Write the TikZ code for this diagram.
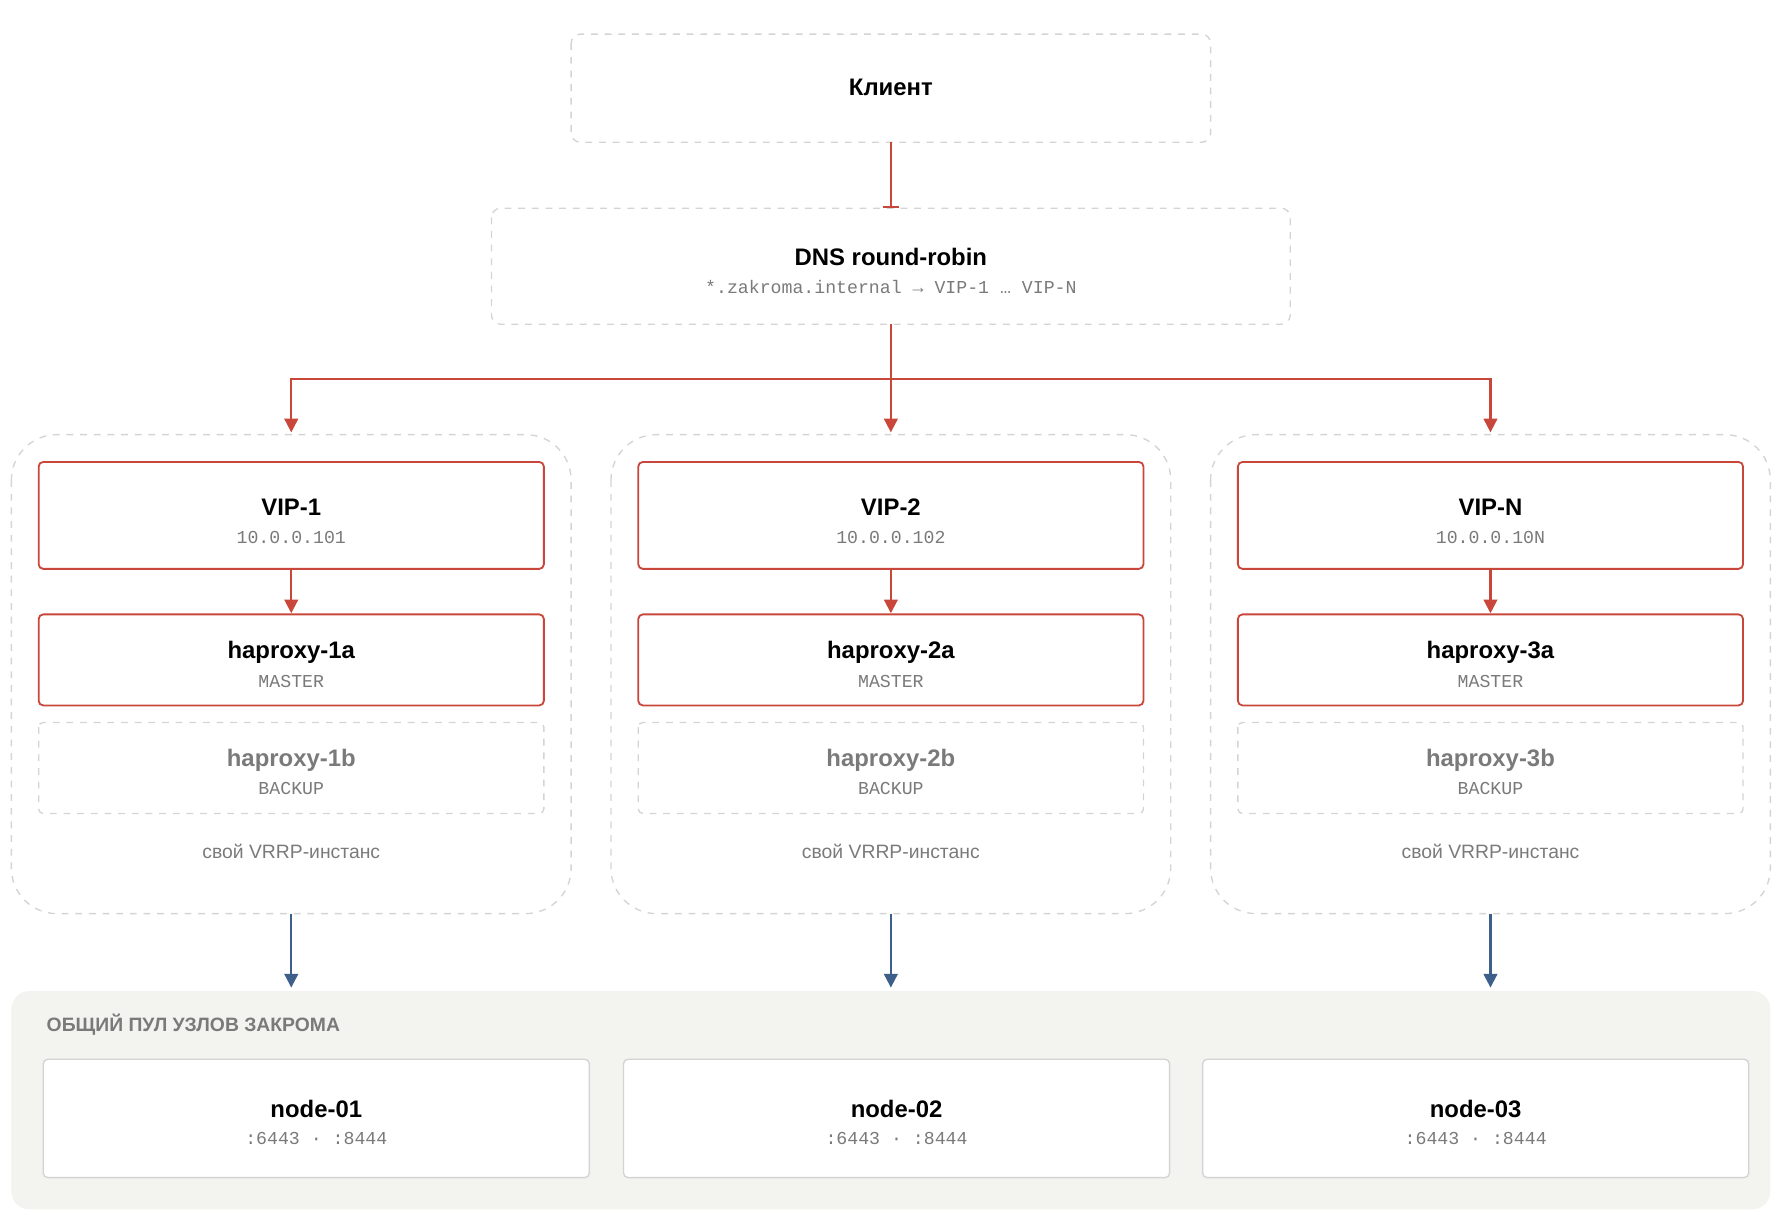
\documentclass[tikz,border=0pt]{standalone}
\usepackage{fontspec}
\setmainfont{Liberation Sans}
\setmonofont{Liberation Mono}
\usetikzlibrary{arrows.meta, positioning}
\definecolor{cred}{HTML}{C8473A}
\definecolor{cblue}{HTML}{3E5F8A}
\definecolor{cgray}{HTML}{D4D4D4}
\definecolor{ctext}{HTML}{7A7A7A}
\definecolor{cpool}{HTML}{F3F3EF}
\tikzstyle{dbox}=[draw=cgray, dashed, rounded corners=4pt, line width=0.6pt]
\tikzstyle{rbox}=[draw=cred, rounded corners=2pt, line width=0.8pt, fill=white]
\tikzstyle{nbox}=[draw=cgray, rounded corners=2pt, line width=0.6pt, fill=white]
\tikzstyle{ttl}=[font=\bfseries\fontsize{10.5}{12}\selectfont]
\tikzstyle{sub}=[font=\ttfamily\fontsize{8}{9}\selectfont, text=ctext]
\tikzstyle{redarr}=[draw=cred, line width=0.9pt, -{Triangle[length=6pt,width=6pt]}]
\tikzstyle{bluarr}=[draw=cblue, line width=0.9pt, -{Triangle[length=6pt,width=6pt]}]

\begin{document}
\begin{tikzpicture}[x=0.5pt,y=-0.5pt]
\useasboundingbox (0,0) rectangle (1568,1077);
% top
\draw[dbox] (502,30) rectangle (1064,125);
\node[ttl] (cl) at (783,77) {Клиент};
\draw[dbox] (432,183) rectangle (1134,285);
\node[ttl] (dns) at (783,226) {DNS round-robin};
\node[sub] (dnss) at (783,252) {*.zakroma.internal → VIP-1 … VIP-N};
\coordinate (clb) at (783,125); \coordinate (dnst) at (783,183);
\coordinate (dnsb) at (783,285); \coordinate (fork) at (783,333);
\draw[draw=cred, line width=0.9pt, -{Bar[width=7pt]}] (clb) -- (dnst);
\draw[draw=cred, line width=0.9pt] (dnsb) -- (fork);
% groups
\foreach \i/\x/\n/\ip in {1/256/1/101, 2/783/2/102, 3/1310/N/10N}{
  \coordinate (top\i) at (\x,380); \coordinate (grb\i) at (\x,803); \coordinate (pl\i) at (\x,868);
  \draw[cred, line width=0.9pt] (fork) -| (\x,340);
  \draw[redarr] (\x,333) -- (top\i);
  \draw[dbox, rounded corners=20pt] (\x-246,382) rectangle (\x+246,803);
  \draw[rbox] (\x-222,406) rectangle (\x+222,500);
  \node[ttl] (vip\i) at (\x,446) {VIP-\n};
  \node[sub] (ip\i) at (\x,472) {10.0.0.\ip};
  \draw[rbox] (\x-222,540) rectangle (\x+222,620);
  \node[ttl] (ha\i) at (\x,573) {haproxy-\i a};
  \node[sub] at (\x,599) {MASTER};
  \draw[redarr] (\x,500) -- (\x,539);
  \draw[dbox, rounded corners=2pt] (\x-222,635) rectangle (\x+222,715);
  \node[ttl, text=ctext] (hb\i) at (\x,668) {haproxy-\i b};
  \node[sub] at (\x,693) {BACKUP};
  \node[font=\fontsize{8.5}{10}\selectfont, text=ctext] (vr\i) at (\x,748) {свой VRRP-инстанс};
  \draw[bluarr] (grb\i) -- (pl\i);
}
% pool
\fill[cpool, rounded corners=8pt] (10,871) rectangle (1556,1063);
\node[font=\bfseries\fontsize{8.5}{10}\selectfont, text=ctext, anchor=west] (pool) at (34,901) {ОБЩИЙ ПУЛ УЗЛОВ ЗАКРОМА};
\foreach \i/\x in {1/278, 2/788, 3/1297}{
  \draw[nbox] (\x-240,931) rectangle (\x+240,1035);
  \node[ttl] (node\i) at (\x,975) {node-0\i};
  \node[sub] at (\x,1001) {:6443 · :8444};
}
\end{tikzpicture}
\end{document}
